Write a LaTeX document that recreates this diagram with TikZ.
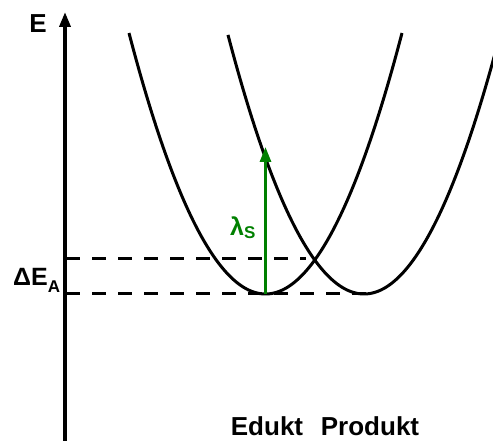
\documentclass[tikz,border=0pt]{standalone}
\usepackage{fontspec}
\setmainfont{Liberation Sans}
\usetikzlibrary{arrows.meta}
\definecolor{arrgreen}{RGB}{0,128,0}
\tikzset{
  curve/.style={line width=3pt,black},
  level/.style={line width=3pt,black,dash pattern=on 14pt off 12pt},
  axis/.style={line width=3.5pt,black,-{Triangle[length=15pt,width=11pt]}},
  excite/.style={line width=3pt,arrgreen,-{Triangle[length=15pt,width=11pt]}},
  lbl/.style={font=\bfseries\fontsize{26}{30}\selectfont,inner sep=0pt},
}
\begin{document}
\begin{tikzpicture}[x=1pt,y=-1pt]
\useasboundingbox (0,0) rectangle (493,441);
% axis
\coordinate (axbot) at (65,441);
\coordinate (axtop) at (65,12);
\draw[axis] (axbot) -- (axtop);
\node[lbl,anchor=base] (E) at (38,33) {E};
% parabolas
\draw[curve,domain=129:402,samples=120,smooth] plot (\x,{294-0.01401*(\x-265.5)*(\x-265.5)});
\begin{scope}
\clip (0,0) rectangle (493,441);
\draw[curve,domain=228:500,samples=120,smooth] plot (\x,{294-0.01401*(\x-364)*(\x-364)});
\end{scope}
% levels
\coordinate (up0) at (66,258);
\coordinate (up1) at (306,258);
\coordinate (lo0) at (66,293);
\coordinate (lo1) at (366,293);
\draw[level] (up0) -- (up1);
\draw[level] (lo0) -- (lo1);
% energy label
\node[lbl,anchor=base west] (dE) at (13,285) {\fontsize{25}{30}\selectfont ΔE\raisebox{-7pt}{\fontsize{17}{20}\selectfont A}};
% excitation arrow
\coordinate (exb) at (265.5,294);
\coordinate (ext) at (265.5,147);
\draw[excite] (exb) -- (ext);
\node[lbl,anchor=base west,text=arrgreen] (lam) at (230,236) {\fontsize{25}{30}\selectfont λ\raisebox{-2pt}{\fontsize{17}{20}\selectfont S}};
% bottom labels
\node[lbl,anchor=base] (ed) at (267,435.5) {Edukt};
\node[lbl,anchor=base] (pr) at (370,435.5) {Produkt};
\end{tikzpicture}
\end{document}
